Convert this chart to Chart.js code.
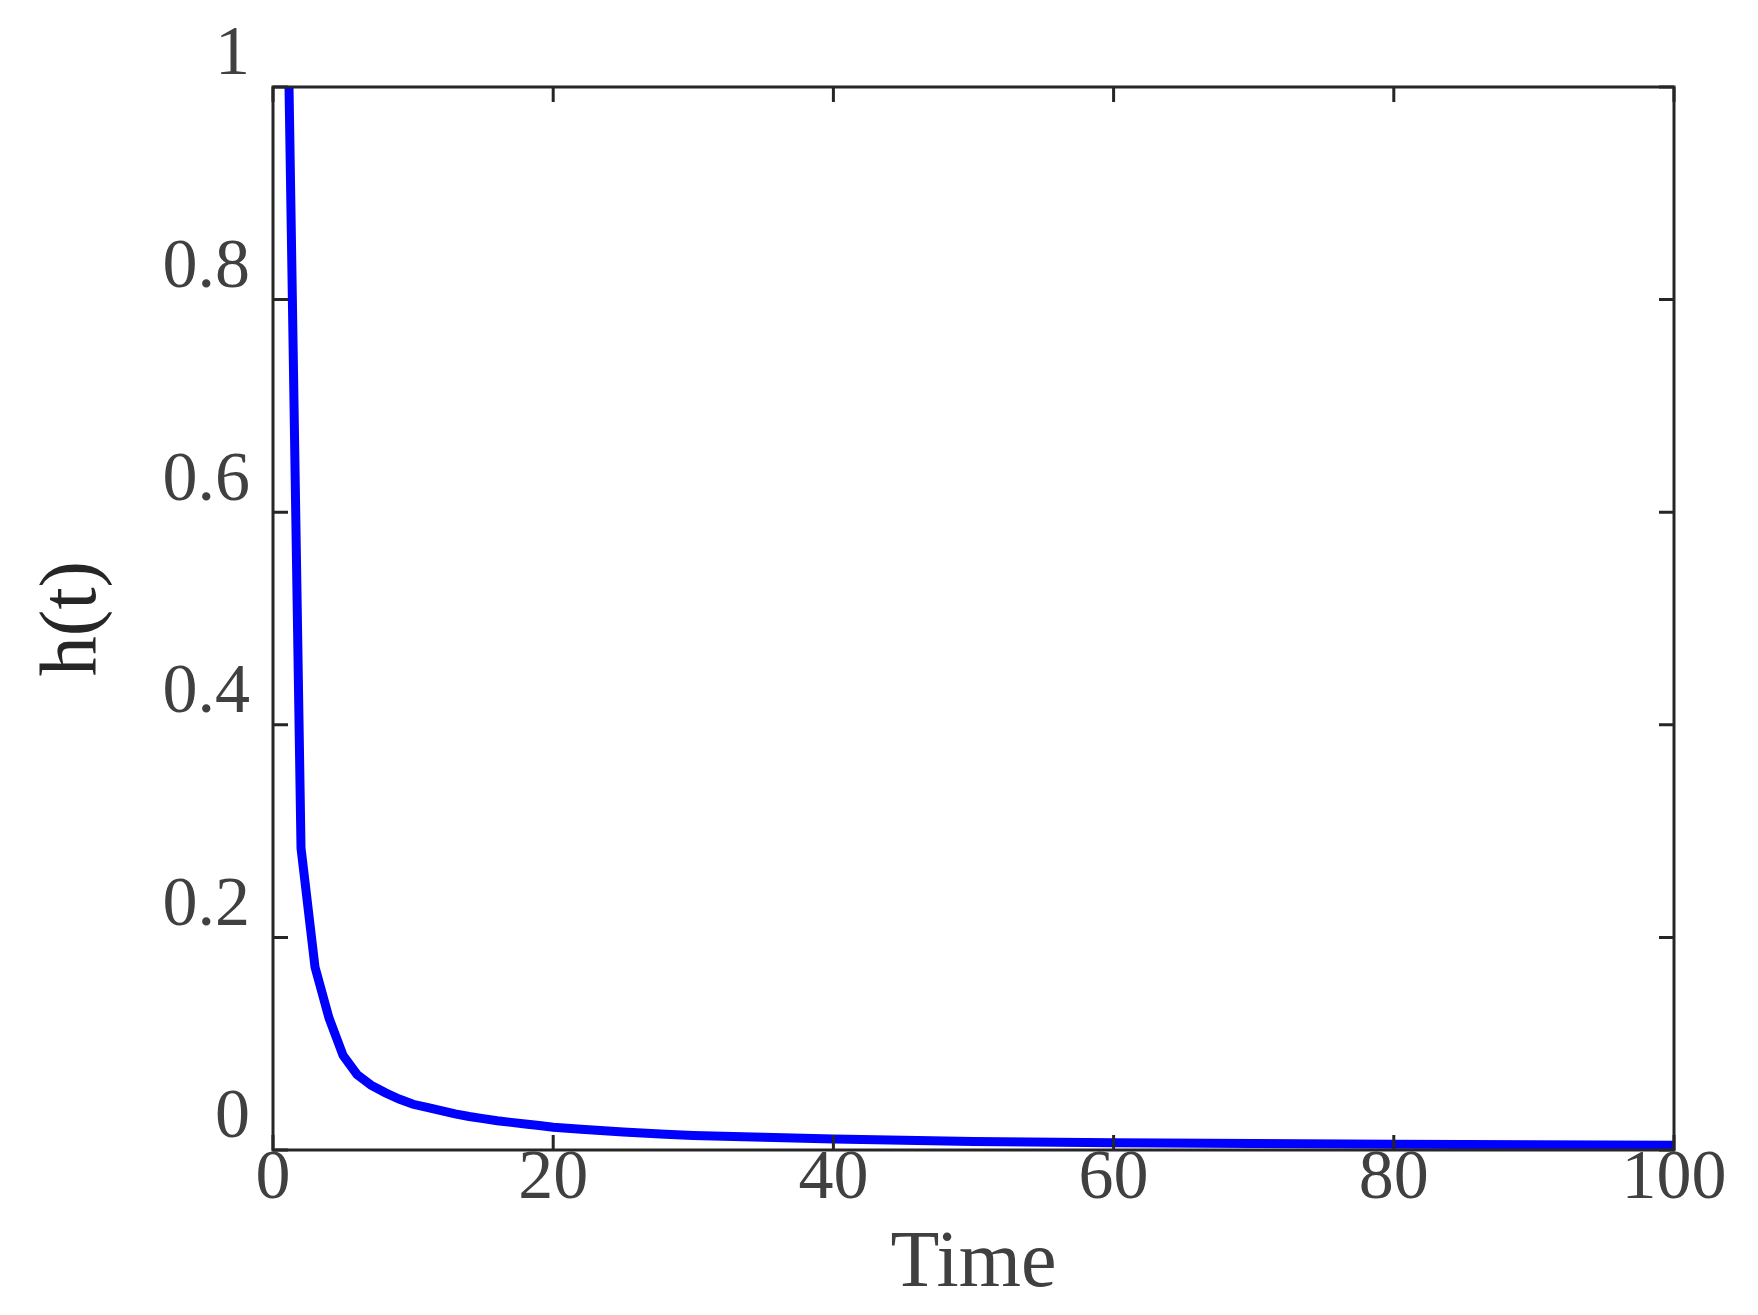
<!DOCTYPE html>
<html>
<head>
<meta charset="utf-8">
<script src="https://cdn.jsdelivr.net/npm/chart.js@4.4.1/dist/chart.umd.min.js"></script>
<style>
  html, body { margin: 0; padding: 0; background: #fff; }
  #wrap { width: 1758px; height: 1315px; }
</style>
</head>
<body>
<div id="wrap"><canvas id="hazard"></canvas></div>
<script>
// values
var timePoints = [1, 2, 3, 4, 5, 6, 7, 8, 9, 10, 11, 12, 13, 14, 15, 16, 17, 18, 19, 20, 22, 25, 28, 30, 35, 40, 45, 50, 60, 70, 80, 90, 100];
var hazardValues = [1.12, 0.284, 0.172, 0.124, 0.089, 0.071, 0.061, 0.054, 0.048, 0.043, 0.040, 0.037, 0.034, 0.0315, 0.0295, 0.0275, 0.026, 0.0245, 0.023, 0.0215, 0.0195, 0.017, 0.0148, 0.0137, 0.012, 0.0104, 0.0091, 0.0080, 0.0069, 0.0060, 0.0054, 0.0049, 0.0044];
var xTicks = [0, 20, 40, 60, 80, 100];
var yTicks = [0, 0.2, 0.4, 0.6, 0.8, 1];

var labelFont = { family: 'Liberation Serif', size: 70 };
var titleFont = { family: 'Liberation Serif', size: 80 };

// box round the plot with ticks pointing inwards on all four sides
var frame = {
    id: 'frame',
    afterDraw: function (chart) {
        var c = chart.ctx, a = chart.chartArea;
        var xs = chart.scales.x, ys = chart.scales.y;
        var len = 15;
        c.save();
        c.strokeStyle = '#262626';
        c.lineWidth = 3;
        c.beginPath();
        xTicks.forEach(function (v) {
            var px = xs.getPixelForValue(v);
            c.moveTo(px, a.bottom); c.lineTo(px, a.bottom - len);
            c.moveTo(px, a.top); c.lineTo(px, a.top + len);
        });
        yTicks.forEach(function (v) {
            var py = ys.getPixelForValue(v);
            c.moveTo(a.left, py); c.lineTo(a.left + len, py);
            c.moveTo(a.right, py); c.lineTo(a.right - len, py);
        });
        c.stroke();
        c.strokeRect(a.left, a.top, a.right - a.left, a.bottom - a.top);
        c.restore();
    }
};

var ctx = document.getElementById('hazard').getContext('2d');
var chart = new Chart(ctx, {
    type: 'line',
    data: {
        datasets: [{
            label: 'h(t)',
            data: timePoints.map(function (t, i) { return { x: t, y: hazardValues[i] }; }),
            borderColor: '#0000ff',
            borderWidth: 9,
            pointRadius: 0,
            fill: false,
            tension: 0
        }]
    },
    options: {
        responsive: true,
        maintainAspectRatio: false,
        animation: false,
        layout: { padding: { top: 87, right: 84, left: 0, bottom: 0 } },
        plugins: { legend: { display: false }, tooltip: { enabled: false } },
        scales: {
            x: {
                type: 'linear',
                min: 0,
                max: 100,
                afterBuildTicks: function (s) { s.ticks = xTicks.map(function (v) { return { value: v }; }); },
                afterFit: function (s) { s.height = 165; },
                grid: { display: false, drawTicks: false },
                border: { display: false },
                ticks: { color: '#404040', font: labelFont, padding: -12, maxRotation: 0 },
                title: { display: true, text: 'Time', color: '#404040', font: titleFont, padding: { top: 0, bottom: 2 } }
            },
            y: {
                type: 'linear',
                min: 0,
                max: 1,
                afterBuildTicks: function (s) { s.ticks = yTicks.map(function (v) { return { value: v }; }); },
                afterFit: function (s) { s.width = 273; },
                grid: { display: false, drawTicks: false },
                border: { display: false },
                ticks: {
                    color: '#404040', font: labelFont, padding: 23, labelOffset: -31,
                    callback: function (v) { return String(Math.round(v * 10) / 10); }
                },
                title: { display: true, text: 'h(t)', color: '#262626', font: titleFont, padding: { top: 26, bottom: 0 } }
            }
        }
    },
    plugins: [frame]
});
</script>
</body>
</html>
